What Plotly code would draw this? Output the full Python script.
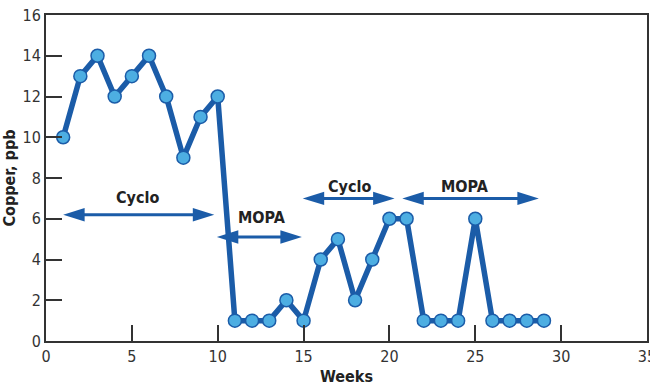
import plotly.graph_objects as go

# Weekly copper readings (ppb)
weeks = list(range(1, 30))
copper = [10, 13, 14, 12, 13, 14, 12, 9, 11, 12,
          1, 1, 1, 2, 1, 4, 5, 2, 4, 6,
          6, 1, 1, 1, 6, 1, 1, 1, 1]

# Treatment periods: label, start week, end week, arrow height, label position
period_labels = ["Cyclo", "MOPA", "Cyclo", "MOPA"]
period_start = [1.0, 9.95, 14.95, 20.75]
period_end = [9.8, 14.9, 20.3, 28.7]
period_level = [6.2, 5.1, 7.0, 7.0]
label_x = [5.35, 12.55, 17.7, 24.4]
label_y = [7.05, 6.05, 7.6, 7.6]

FONT = "DejaVu Sans Condensed, Liberation Sans Narrow, DejaVu Sans, sans-serif"
LINE_BLUE = "#1b5ca8"
DOT_BLUE = "#4daee2"
AXIS = "#333333"

# arrowhead geometry in axis units
HEAD_LEN = 1.25
HEAD_HALF = 0.33

fig = go.Figure()

for lab, x0, x1, lvl, lx, ly in zip(period_labels, period_start, period_end,
                                     period_level, label_x, label_y):
    fig.add_shape(type="line", x0=x0 + HEAD_LEN * 0.9, x1=x1 - HEAD_LEN * 0.9,
                  y0=lvl, y1=lvl, line=dict(color=LINE_BLUE, width=3))
    left = (f"M{x0},{lvl} L{x0 + HEAD_LEN},{lvl + HEAD_HALF} "
            f"L{x0 + HEAD_LEN},{lvl - HEAD_HALF} Z")
    right = (f"M{x1},{lvl} L{x1 - HEAD_LEN},{lvl + HEAD_HALF} "
             f"L{x1 - HEAD_LEN},{lvl - HEAD_HALF} Z")
    for p in (left, right):
        fig.add_shape(type="path", path=p, fillcolor=LINE_BLUE,
                      line=dict(color=LINE_BLUE, width=0))
    fig.add_annotation(
        x=lx, y=ly, xref="x", yref="y", text=f"<b>{lab}</b>", showarrow=False,
        font=dict(family=FONT, size=16, color="#222222"),
    )

fig.add_trace(go.Scatter(
    x=weeks, y=copper, mode="lines+markers",
    line=dict(color=LINE_BLUE, width=5.5),
    marker=dict(size=13, color=DOT_BLUE, line=dict(color=LINE_BLUE, width=1.5)),
    showlegend=False, cliponaxis=False,
))

tick_font = dict(family=FONT, size=16, color=AXIS)
title_font = dict(family=FONT, size=16, color="#222222")

fig.update_xaxes(
    range=[0, 35], tickvals=[0, 5, 10, 15, 20, 25, 30, 35],
    ticks="inside", ticklen=16, tickwidth=2, tickcolor=AXIS,
    showline=True, linewidth=2, linecolor=AXIS, mirror=True,
    showgrid=False, zeroline=False, tickfont=tick_font,
    ticklabeloverflow="allow", automargin=False,
    title=dict(text="<b>Weeks</b>", font=title_font, standoff=6),
)
fig.update_yaxes(
    range=[0, 16], tickvals=list(range(0, 17, 2)),
    ticks="inside", ticklen=16, tickwidth=2, tickcolor=AXIS,
    showline=True, linewidth=2, linecolor=AXIS, mirror=True,
    showgrid=False, zeroline=False, tickfont=tick_font, automargin=False,
    title=dict(text="<b>Copper, ppb</b>", font=title_font, standoff=6),
)

fig.update_layout(
    width=650, height=388,
    margin=dict(l=46, r=3, t=15, b=47),
    paper_bgcolor="white", plot_bgcolor="white",
)

fig.write_html("out.html")
